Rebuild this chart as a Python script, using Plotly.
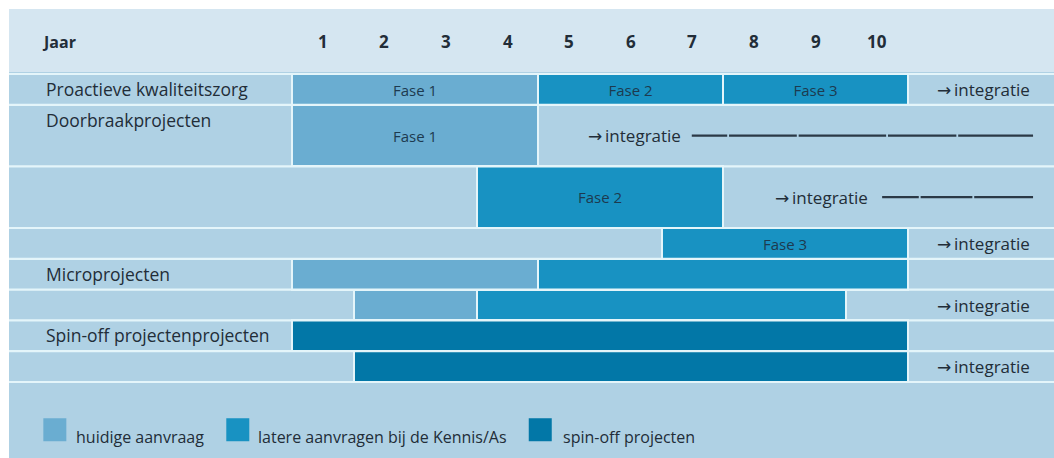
import plotly.graph_objects as go

# ---------------- data ----------------
YEARS = ["1", "2", "3", "4", "5", "6", "7", "8", "9", "10"]
ROW_LABELS = ["Proactieve kwaliteitszorg", "Doorbraakprojecten", "", "",
              "Microprojecten", "", "Spin-off projectenprojecten", ""]
ROW_SPANS = [1, 2, 2, 1, 1, 1, 1, 1]

BAR_ROW = [0, 0, 0, 1, 2, 3, 4, 4, 5, 5, 6, 7]
BAR_START = [0, 4, 7, 0, 3, 6, 0, 4, 1, 3, 0, 1]
BAR_END = [4, 7, 10, 4, 7, 10, 4, 10, 3, 9, 10, 10]
BAR_KIND = [0, 1, 1, 0, 1, 1, 0, 1, 0, 1, 2, 2]
BAR_TEXT = ["Fase 1", "Fase 2", "Fase 3", "Fase 1", "Fase 2", "Fase 3",
            "", "", "", "", "", ""]

LEGEND_NAMES = ["huidige aanvraag", "latere aanvragen bij de Kennis/As", "spin-off projecten"]
COLORS = ["#6aadd1", "#1892c2", "#0277a7"]

INTEG_ROW = [0, 1, 2, 3, 5, 7]
INTEG_END = [12.02, 6.35, 9.38, 12.02, 12.02, 12.02]
INTEG_TEXT = '<span style="font-family:DejaVu Sans">\u2192</span>\u2009integratie'

LINE_ROW = [1, 2]
LINE_START = [6.49, 9.58]
LINE_END = [12.03, 12.03]
LINE_BREAKS = [[7.08, 8.21, 9.66, 10.80], [10.19, 11.06]]

# ---------------- layout helpers ----------------
W, H = 1054, 458
X0_PX, X_UNIT = 292, 61.6     # pixel of year-start 0, pixels per year
Y0_PX, Y_UNIT = 74, 30.8      # pixel of first row top, pixels per row unit

PANEL_BG = "#afd1e4"
HEADER_BG = "#d5e6f1"
SEP = "#e4f5fa"
TXT = "#222d38"
FONT = "Open Sans"

row_top = []
acc = 0
for s in ROW_SPANS:
    row_top.append(acc)
    acc += s
row_center = [t + s / 2 for t, s in zip(row_top, ROW_SPANS)]

fig = go.Figure()

# bars, one trace per kind
for k, name in enumerate(LEGEND_NAMES):
    idx = [i for i in range(len(BAR_ROW)) if BAR_KIND[i] == k]
    fig.add_trace(go.Bar(
        orientation="h",
        y=[row_center[BAR_ROW[i]] for i in idx],
        base=[BAR_START[i] for i in idx],
        x=[BAR_END[i] - BAR_START[i] for i in idx],
        width=[ROW_SPANS[BAR_ROW[i]] for i in idx],
        text=[BAR_TEXT[i] for i in idx],
        textposition="inside",
        insidetextanchor="middle",
        textangle=0,
        textfont=dict(family=FONT, size=15, color="#1d3a4f"),
        marker=dict(color=COLORS[k], line=dict(color=SEP, width=2)),
        name=name,
        showlegend=False,
        hoverinfo="skip",
    ))

# integration lines
for r, a, b, brks in zip(LINE_ROW, LINE_START, LINE_END, LINE_BREAKS):
    xs, ys = [], []
    pts = [a] + brks + [b]
    for j in range(len(pts) - 1):
        s = pts[j] + (0.015 if j > 0 else 0)
        e = pts[j + 1] - (0.015 if j + 1 < len(pts) - 1 else 0)
        xs += [s, e, None]
        ys += [row_center[r], row_center[r], None]
    fig.add_trace(go.Scatter(x=xs, y=ys, mode="lines",
                             line=dict(color="#2b3946", width=2.2),
                             showlegend=False, hoverinfo="skip"))

# legend markers
LEG_X = [-3.85, -0.88, 4.03]
LEG_TX = [-3.54, -0.58, 4.37]
leg_y = 11.55
fig.add_trace(go.Scatter(
    x=LEG_X, y=[leg_y] * 3, mode="markers",
    marker=dict(symbol="square", size=23, color=COLORS, line=dict(width=0)),
    showlegend=False, hoverinfo="skip"))

shapes = []
shapes.append(dict(type="rect", xref="paper", yref="paper", x0=9 / W, x1=1, y0=0, y1=1 - 9 / H,
                   fillcolor=PANEL_BG, line=dict(width=0), layer="below"))
shapes.append(dict(type="rect", xref="paper", yref="paper", x0=9 / W, x1=1, y0=1 - 72 / H, y1=1 - 9 / H,
                   fillcolor=HEADER_BG, line=dict(width=0), layer="below"))
for yb in [0] + [t + s for t, s in zip(row_top, ROW_SPANS)]:
    shapes.append(dict(type="line", xref="paper", yref="y", x0=9 / W, x1=1, y0=yb, y1=yb,
                       line=dict(color=SEP, width=2.2), layer="above"))

annotations = []
annotations.append(dict(x=-4.09, y=-1.05, text="<b>Jaar</b>", showarrow=False, xanchor="left",
                        font=dict(family=FONT, size=16, color=TXT)))
for i, lab in enumerate(YEARS):
    annotations.append(dict(x=i + 0.5, y=-1.05, text="<b>" + lab + "</b>", showarrow=False,
                            font=dict(family=FONT, size=17, color=TXT)))
for r, lab in enumerate(ROW_LABELS):
    if lab:
        annotations.append(dict(x=-4.03, y=row_top[r] + 0.48, text=lab, showarrow=False, xanchor="left",
                                font=dict(family=FONT, size=17.5, color=TXT)))
for r, xe in zip(INTEG_ROW, INTEG_END):
    annotations.append(dict(x=xe, y=row_center[r], text=INTEG_TEXT, showarrow=False, xanchor="right",
                            font=dict(family=FONT, size=17, color=TXT)))
for tx, name in zip(LEG_TX, LEGEND_NAMES):
    annotations.append(dict(x=tx, y=leg_y + 0.22, text=name, showarrow=False, xanchor="left",
                            font=dict(family=FONT, size=16, color=TXT)))

fig.update_layout(
    width=W, height=H,
    margin=dict(l=0, r=0, t=0, b=0),
    paper_bgcolor="white", plot_bgcolor="rgba(0,0,0,0)",
    barmode="overlay", bargap=0,
    shapes=shapes, annotations=annotations,
    xaxis=dict(range=[-X0_PX / X_UNIT, (W - X0_PX) / X_UNIT], visible=False, fixedrange=True),
    yaxis=dict(range=[(H - Y0_PX) / Y_UNIT, -Y0_PX / Y_UNIT], visible=False, fixedrange=True),
    showlegend=False,
)

fig.write_html("out.html", config={"displayModeBar": False},
               post_script="document.body.style.margin='0';document.body.style.overflow='hidden';")
